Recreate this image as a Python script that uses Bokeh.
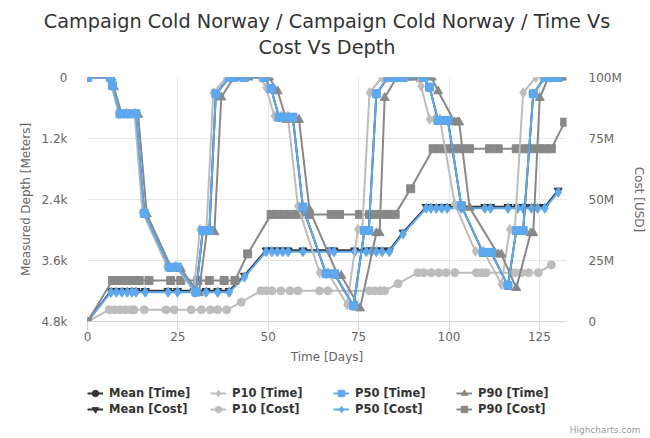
from bokeh.plotting import figure
from bokeh.layouts import column
from bokeh.models import Range1d, LinearAxis, FixedTicker, Legend, LegendItem, Title
from bokeh.embed import file_html
from bokeh.resources import INLINE

# ---------------- data ----------------
# Depth vs time (left axis, metres)
mean_t_day = [0, 6.3, 6.9, 9.0, 11.2, 13.4, 15.7, 22.6, 24.9, 30.0, 31.9, 33.7, 35.5, 39.2, 40.6, 43.4,
              48.9, 50.8, 53.0, 54.9, 56.8, 59.6, 66.0, 68.3, 73.6, 76.6, 77.8, 79.9, 83.1, 85.0, 87.3,
              93.0, 94.6, 97.0, 98.4, 99.7, 103.4, 109.4, 111.7, 116.3, 118.6, 120.5, 123.3, 126.5, 128.3, 130.2]
mean_t_depth = [0, 0, 163, 718, 718, 718, 2672, 3735, 3735, 4222, 3012, 3012, 322, 0, 0, 0,
                0, 222, 785, 785, 785, 2555, 3865, 3865, 4495, 3015, 3015, 322, 0, 0, 0,
                0, 193, 848, 848, 848, 2522, 3445, 3445, 4095, 3015, 3015, 322, 0, 0, 0]

p10_t_day = [0, 6.0, 6.6, 8.6, 10.8, 13.0, 15.2, 22.0, 24.3, 29.4, 31.1, 32.9, 34.8, 38.4, 40.0, 42.6,
             47.8, 49.4, 51.7, 53.6, 55.4, 58.2, 64.2, 66.5, 71.8, 74.8, 76.0, 78.0, 81.4, 83.2, 85.5,
             91.2, 92.3, 94.6, 96.0, 97.5, 101.6, 107.3, 109.6, 114.5, 116.8, 118.2, 120.5, 124.0, 126.0, 128.0]
p10_t_depth = [0, 0, 150, 700, 700, 700, 2650, 3710, 3710, 4200, 2990, 2990, 300, 0, 0, 0,
               0, 200, 760, 760, 760, 2530, 3840, 3840, 4470, 2990, 2990, 300, 0, 0, 0,
               0, 170, 820, 820, 820, 2490, 3420, 3420, 4070, 2990, 2990, 300, 0, 0, 0]

p50_t_day = [0, 6.3, 6.9, 9.0, 11.2, 13.4, 15.7, 22.6, 24.9, 30.0, 31.9, 33.7, 35.5, 39.2, 40.6, 43.4,
             48.9, 50.8, 53.0, 54.9, 56.8, 59.6, 66.0, 68.3, 73.6, 76.6, 77.8, 79.9, 83.1, 85.0, 87.3,
             93.0, 94.6, 97.0, 98.4, 99.7, 103.4, 109.4, 111.7, 116.3, 118.6, 120.5, 123.3, 126.5, 128.3, 130.2]
p50_t_depth = [0, 0, 160, 715, 715, 715, 2670, 3730, 3730, 4220, 3010, 3010, 320, 0, 0, 0,
               0, 220, 780, 780, 780, 2550, 3860, 3860, 4490, 3010, 3010, 320, 0, 0, 0,
               0, 190, 845, 845, 845, 2520, 3440, 3440, 4090, 3010, 3010, 320, 0, 0, 0]

p90_t_day = [0, 6.6, 7.3, 9.5, 11.7, 14.0, 16.4, 23.3, 25.8, 30.8, 33.0, 35.1, 37.0, 40.5, 42.0, 44.5,
             50.2, 52.6, 55.0, 57.7, 58.5, 61.4, 69.3, 70.2, 75.4, 79.9, 80.8, 82.2, 85.5, 88.6, 90.0,
             95.2, 97.0, 101.6, 102.3, 102.8, 105.7, 113.6, 114.5, 118.6, 122.6, 123.3, 125.1, 127.5, 130.5, 132.5]
p90_t_depth = [0, 0, 190, 730, 730, 730, 2690, 3760, 3760, 4240, 3040, 3040, 390, 0, 0, 0,
               0, 270, 830, 830, 830, 2600, 3900, 3900, 4540, 3060, 3060, 400, 0, 0, 0,
               0, 270, 880, 880, 880, 2560, 3480, 3480, 4140, 3060, 3060, 400, 0, 0, 0]

# Cost vs time (right axis, million USD)
mean_c_day = [0, 6.5, 8.0, 9.5, 11.0, 12.3, 13.4, 16.0, 22.3, 24.9, 29.5, 32.8, 36.0, 39.2, 43.4,
              49.4, 51.0, 52.5, 54.0, 55.5, 59.6, 66.9, 68.2, 73.9, 77.1, 78.5, 79.9, 81.5, 83.5, 87.3,
              93.7, 95.0, 96.5, 98.0, 99.5, 103.4, 109.9, 111.5, 116.3, 119.0, 120.5, 122.8, 124.5, 126.5, 130.2]
mean_c_cost = [0, 12.6, 12.6, 12.6, 12.6, 12.6, 12.6, 12.6, 12.6, 12.6, 12.6, 12.6, 12.6, 12.6, 18.8,
               29.2, 29.2, 29.2, 29.2, 29.2, 29.2, 29.2, 29.2, 29.2, 29.2, 29.2, 29.2, 29.2, 29.2, 36.5,
               47.0, 47.0, 47.0, 47.0, 47.0, 47.0, 47.0, 47.0, 47.0, 47.0, 47.0, 47.0, 47.0, 47.0, 53.7]

p10_c_day = [0, 6.0, 7.5, 9.0, 10.5, 12.0, 12.9, 15.7, 21.7, 24.0, 28.7, 31.5, 34.0, 36.0, 38.5, 42.5,
             48.0, 49.5, 51.0, 53.5, 56.0, 58.2, 64.2, 66.5, 78.0, 79.5, 81.0, 82.2, 85.9,
             91.4, 93.0, 95.1, 97.2, 99.2, 101.6, 107.6, 109.0, 110.3, 118.2, 120.0, 122.0, 124.7, 128.3]
p10_c_cost = [0, 4.8, 4.8, 4.8, 4.8, 4.8, 4.8, 4.8, 4.8, 4.8, 4.8, 4.8, 4.8, 4.8, 4.8, 7.9,
              12.6, 12.6, 12.6, 12.6, 12.6, 12.6, 12.6, 12.6, 12.6, 12.6, 12.6, 12.6, 15.5,
              20.0, 20.0, 20.0, 20.0, 20.0, 20.0, 20.0, 20.0, 20.0, 20.0, 20.0, 20.0, 20.0, 23.2]

p50_c_day = [0, 6.5, 8.0, 9.5, 11.0, 12.3, 13.4, 16.0, 22.3, 24.9, 29.5, 32.8, 36.0, 39.2, 43.4,
             49.4, 51.0, 52.5, 54.0, 55.5, 59.6, 66.9, 68.2, 73.9, 77.1, 78.5, 79.9, 81.5, 83.5, 87.3,
             93.7, 95.0, 96.5, 98.0, 99.5, 103.4, 109.9, 111.5, 116.3, 119.0, 120.5, 122.8, 124.5, 126.5, 130.2]
p50_c_cost = [0, 12.0, 12.0, 12.0, 12.0, 12.0, 12.0, 12.0, 12.0, 12.0, 12.0, 12.0, 12.0, 12.0, 18.2,
              28.6, 28.6, 28.6, 28.6, 28.6, 28.6, 28.6, 28.6, 28.6, 28.6, 28.6, 28.6, 28.6, 28.6, 35.9,
              46.4, 46.4, 46.4, 46.4, 46.4, 46.4, 46.4, 46.4, 46.4, 46.4, 46.4, 46.4, 46.4, 46.4, 53.0]

p90_c_day = [0, 6.9, 8.4, 10.0, 11.5, 13.0, 14.3, 17.0, 23.0, 25.8, 30.5, 33.7, 37.8, 40.8, 44.3,
             50.8, 52.5, 54.5, 56.5, 58.5, 61.3, 67.4, 69.7, 75.2, 78.0, 79.8, 81.5, 83.1, 85.1, 89.4,
             95.6, 97.5, 99.5, 101.5, 103.4, 105.7, 111.2, 113.6, 118.6, 120.5, 122.5, 124.7, 126.5, 128.3, 132.0]
p90_c_cost = [0, 16.8, 16.8, 16.8, 16.8, 16.8, 16.8, 16.8, 16.8, 16.8, 16.8, 16.8, 16.8, 16.8, 27.7,
              43.9, 43.9, 43.9, 43.9, 43.9, 43.9, 43.9, 43.9, 43.9, 43.9, 43.9, 43.9, 43.9, 43.9, 54.4,
              70.8, 70.8, 70.8, 70.8, 70.8, 70.8, 70.8, 70.8, 70.8, 70.8, 70.8, 70.8, 70.8, 70.8, 81.7]

x_ticks = [0, 25, 50, 75, 100, 125]
depth_ticks = [0, 1200, 2400, 3600, 4800]
depth_labels = ["0", "1.2k", "2.4k", "3.6k", "4.8k"]
cost_ticks = [0, 25, 50, 75, 100]
cost_labels = ["0", "25M", "50M", "75M", "100M"]

title_1 = "Campaign Cold Norway / Campaign Cold Norway / Time Vs"
title_2 = "Cost Vs Depth"
credit = "Highcharts.com"

# ---------------- styling ----------------
FONT = "DejaVu Sans"
C_MEAN = "#333333"
C_P10 = "#bdbdbd"
C_P50 = "#5da8ee"
C_P90 = "#888888"
GRID = "#e6e6e6"
LABEL = "#666666"
W = 650
H_MAIN, H_FOOT = 372, 66

# ---- main chart ----
p = figure(width=W, height=H_MAIN, x_range=Range1d(0, 132.5), y_range=Range1d(4800, 0),
           output_backend="svg", toolbar_location=None,
           min_border_left=87, min_border_right=84, min_border_top=77, min_border_bottom=51)
p.outline_line_color = None
p.background_fill_color = "white"
p.border_fill_color = "white"
p.extra_y_ranges = {"cost": Range1d(0, 100)}

p.xgrid.grid_line_color = GRID
p.ygrid.grid_line_color = GRID

# titles stack outward from the frame: spacer, second line, first line
p.add_layout(Title(text=" ", text_font_size="10px", standoff=6), "above")
p.add_layout(Title(text=title_2, align="center", standoff=0, text_font=FONT,
                   text_font_size="19.3px", text_font_style="normal", text_color="#333333"), "above")
p.add_layout(Title(text=title_1, align="center", standoff=2, text_font=FONT,
                   text_font_size="19.3px", text_font_style="normal", text_color="#333333"), "above")

xax = p.xaxis[0]
xax.ticker = FixedTicker(ticks=x_ticks)
xax.axis_label = "Time [Days]"
xax.axis_line_color = "#d0d6de"
xax.major_tick_line_color = "#d0d6de"
xax.major_tick_out = 9
xax.major_tick_in = 0
xax.minor_tick_line_color = None
xax.major_label_standoff = 1
xax.axis_label_standoff = 6

yax = p.yaxis[0]
yax.ticker = FixedTicker(ticks=depth_ticks)
yax.major_label_overrides = {t: s for t, s in zip(depth_ticks, depth_labels)}
yax.axis_label = "Measured Depth [Meters]"
yax.axis_line_color = None
yax.major_tick_line_color = None
yax.minor_tick_line_color = None
yax.major_tick_out = 0
yax.major_tick_in = 0
yax.major_label_standoff = 20
yax.axis_label_standoff = 5

rax = LinearAxis(y_range_name="cost", ticker=FixedTicker(ticks=cost_ticks),
                 major_label_overrides={t: s for t, s in zip(cost_ticks, cost_labels)},
                 axis_label="Cost [USD]")
rax.axis_line_color = None
rax.major_tick_line_color = None
rax.minor_tick_line_color = None
rax.major_tick_out = 0
rax.major_tick_in = 0
rax.major_label_standoff = 22
rax.axis_label_standoff = 7
p.add_layout(rax, "right")

for ax in (xax, yax, rax):
    ax.major_label_text_font = FONT
    ax.major_label_text_font_size = "12px"
    ax.major_label_text_color = LABEL
    ax.axis_label_text_font = FONT
    ax.axis_label_text_font_size = "12px"
    ax.axis_label_text_font_style = "normal"
    ax.axis_label_text_color = LABEL


def series(fig, xs, ys, color, marker, size, cost=False):
    kw = {"y_range_name": "cost"} if cost else {}
    ln = fig.line(xs, ys, line_color=color, line_width=2, line_join="round", **kw)
    sc = fig.scatter(xs, ys, marker=marker, size=size, fill_color=color, line_color=color, **kw)
    return [ln, sc]

specs = {
    "Mean [Cost]": (mean_c_day, mean_c_cost, C_MEAN, "inverted_triangle", 8, True),
    "P10 [Cost]": (p10_c_day, p10_c_cost, C_P10, "circle", 8, True),
    "P50 [Cost]": (p50_c_day, p50_c_cost, C_P50, "diamond", 10, True),
    "P90 [Cost]": (p90_c_day, p90_c_cost, C_P90, "square", 8, True),
    "Mean [Time]": (mean_t_day, mean_t_depth, C_MEAN, "circle", 8, False),
    "P10 [Time]": (p10_t_day, p10_t_depth, C_P10, "diamond", 10, False),
    "P90 [Time]": (p90_t_day, p90_t_depth, C_P90, "triangle", 9, False),
    "P50 [Time]": (p50_t_day, p50_t_depth, C_P50, "square", 8, False),
}
for name, (xs, ys, c, m, s, cost) in specs.items():
    series(p, xs, ys, c, m, s, cost)

# ---- footer: legend (frame aligned with the chart) and credit ----
foot = figure(width=W, height=H_FOOT, x_range=Range1d(1000, 1001), y_range=Range1d(10000, 10001),
              output_backend="svg", toolbar_location=None, min_border=0,
              x_axis_location=None, y_axis_location=None)
foot.outline_line_color = None
foot.grid.grid_line_color = None
foot.background_fill_color = "white"
foot.border_fill_color = "white"

legend_order = ["Mean [Time]", "P10 [Time]", "P50 [Time]", "P90 [Time]",
                "Mean [Cost]", "P10 [Cost]", "P50 [Cost]", "P90 [Cost]"]
items = []
for name in legend_order:
    xs, ys, c, m, s, _ = specs[name]
    rs = series(foot, xs, ys, c, m, s)   # out of this panel's range: only the legend glyphs show
    items.append(LegendItem(label=name, renderers=rs))

legend = Legend(items=items, location=(0, 2), orientation="horizontal", ncols=4,
                glyph_width=16, glyph_height=16, label_height=16, label_width=101,
                label_standoff=6, spacing=0, padding=0, margin=0,
                border_line_color=None, background_fill_alpha=0,
                label_text_font=FONT, label_text_font_size="11.5px",
                label_text_font_style="bold", label_text_color="#333333")
foot.add_layout(legend)
foot.add_layout(Title(text=credit, align="right", offset=-74, standoff=7, text_font=FONT,
                      text_font_size="9px", text_font_style="normal", text_color="#999999"), "below")

page = column(p, foot, spacing=0)
open("out.html", "w").write(file_html(page, INLINE))
